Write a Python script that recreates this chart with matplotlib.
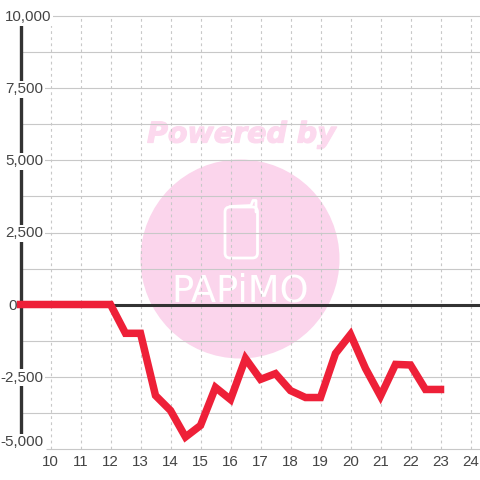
"""Line chart with a pale watermark behind the grid."""
import matplotlib
matplotlib.use("Agg")
import matplotlib.pyplot as plt
import matplotlib.patheffects as pe
from matplotlib.patches import Circle, FancyBboxPatch

plt.rcParams["font.family"] = ["Liberation Sans", "DejaVu Sans"]

hours = [9, 12, 12.5, 13, 13.5, 14, 14.5, 15, 15.5, 16, 16.5, 17, 17.5, 18,
         18.5, 19, 19.5, 20, 20.5, 21, 21.5, 22, 22.5, 23]
values = [0, 0, -1000, -1000, -3160, -3680, -4600, -4200, -2880, -3300, -1875, -2600, -2400, -2990,
          -3230, -3230, -1700, -1040, -2220, -3180, -2080, -2100, -2950, -2950]
x_ticks = list(range(10, 25))
y_major = [10000, 7500, 5000, 2500, 0, -2500, -5000]
y_labels = ["10,000", "7,500", "5,000", "2,500", "0", "-2,500", "-5,000"]
y_minor = [8750, 6250, 3750, 1250, -1250, -3750]

GRID = "#c8c8c8"
DARK = "#333333"
RED = "#ee2038"
PINK = "#fbd5ec"
X_MAX = 9 + 459.5 / 30

fig = plt.figure(figsize=(4.8, 4.8), dpi=100, facecolor="white")

# Watermark lives on its own axes in pixel coordinates, under the chart.
bg = fig.add_axes([0, 0, 1, 1], zorder=0)
bg.set_xlim(0, 480)
bg.set_ylim(480, 0)
bg.set_axis_off()
bg.add_patch(Circle((240, 259), 99.5, fc=PINK, ec="none"))
bg.text(241.5, 134.5, "Powered by", family="DejaVu Sans", weight="bold", style="oblique",
        fontsize=20.5, color="#fcd9ee", ha="center", va="center",
        path_effects=[pe.withStroke(linewidth=0.9, foreground="#fcd9ee")])
bg.add_patch(FancyBboxPatch((228, 210), 26.5, 45, boxstyle="round,pad=3,rounding_size=5",
                            fc="none", ec="white", lw=2.0))
bg.plot([230, 251, 253, 256, 256], [206.5, 205.5, 200.5, 200.5, 212], color="white", lw=2.0,
        solid_capstyle="round", solid_joinstyle="round")
bg.text(240, 291, "PAPiMO", family="Liberation Sans Narrow", fontsize=26.5, color="white",
        ha="center", va="center")

ax = fig.add_axes([20.5 / 480, 31.5 / 480, 459.5 / 480, 432 / 480], zorder=1)
ax.patch.set_alpha(0)
ax.set_xlim(9, X_MAX)
ax.set_ylim(-5000, 10000)

for side in ["top", "right", "bottom"]:
    ax.spines[side].set_visible(False)
ax.spines["left"].set_linewidth(2.4)
ax.spines["left"].set_color(DARK)
ax.spines["left"].set_bounds(-4700, 10000)

ax.set_xticks(x_ticks)
ax.set_yticks(y_major)
ax.set_yticks(y_minor, minor=True)
ax.set_yticklabels([])
ax.tick_params(axis="both", which="both", length=0)
ax.tick_params(axis="x", labelsize=10.9, labelcolor="#444444", pad=5)
ax.grid(True, axis="y", which="both", color=GRID, lw=0.8, zorder=1)
ax.grid(True, axis="x", color=GRID, lw=0.8, ls=(0, (2.5, 3)), zorder=1)
for gl in ax.yaxis.get_gridlines():
    gl.set_clip_on(False)

# The bottom line stops short of the axis, past where its label column ends.
ax.yaxis.get_gridlines()[-1].set_visible(False)
ax.hlines(y_major[-1], 9 + 25.5 / 30, X_MAX, color=GRID, lw=0.8, clip_on=False, zorder=1)

ax.axhline(0, color=DARK, lw=2.2, zorder=3)
ax.plot(hours, values, color=RED, lw=5.4, solid_joinstyle="miter", solid_capstyle="projecting",
        zorder=4, clip_on=False)

# Value labels sit on white boxes that break the axis and grid lines; the zero
# label has no box and stands left of the axis.
for v, lab in zip(y_major, y_labels):
    right = {"10,000": 51.5, "0": 16.5}.get(lab, 43.5)
    lift = 6 if lab == "-5,000" else -1
    box = None if lab == "0" else dict(fc="white", ec="none", boxstyle="square,pad=0.1")
    ax.annotate(lab, (0, v), xycoords=ax.get_yaxis_transform(),
                xytext=(right - 20.5, lift), textcoords="offset pixels",
                ha="right", va="center", fontsize=10.9, color="#444444", zorder=5,
                annotation_clip=False, bbox=box)

fig.savefig("out.png", dpi=100)
